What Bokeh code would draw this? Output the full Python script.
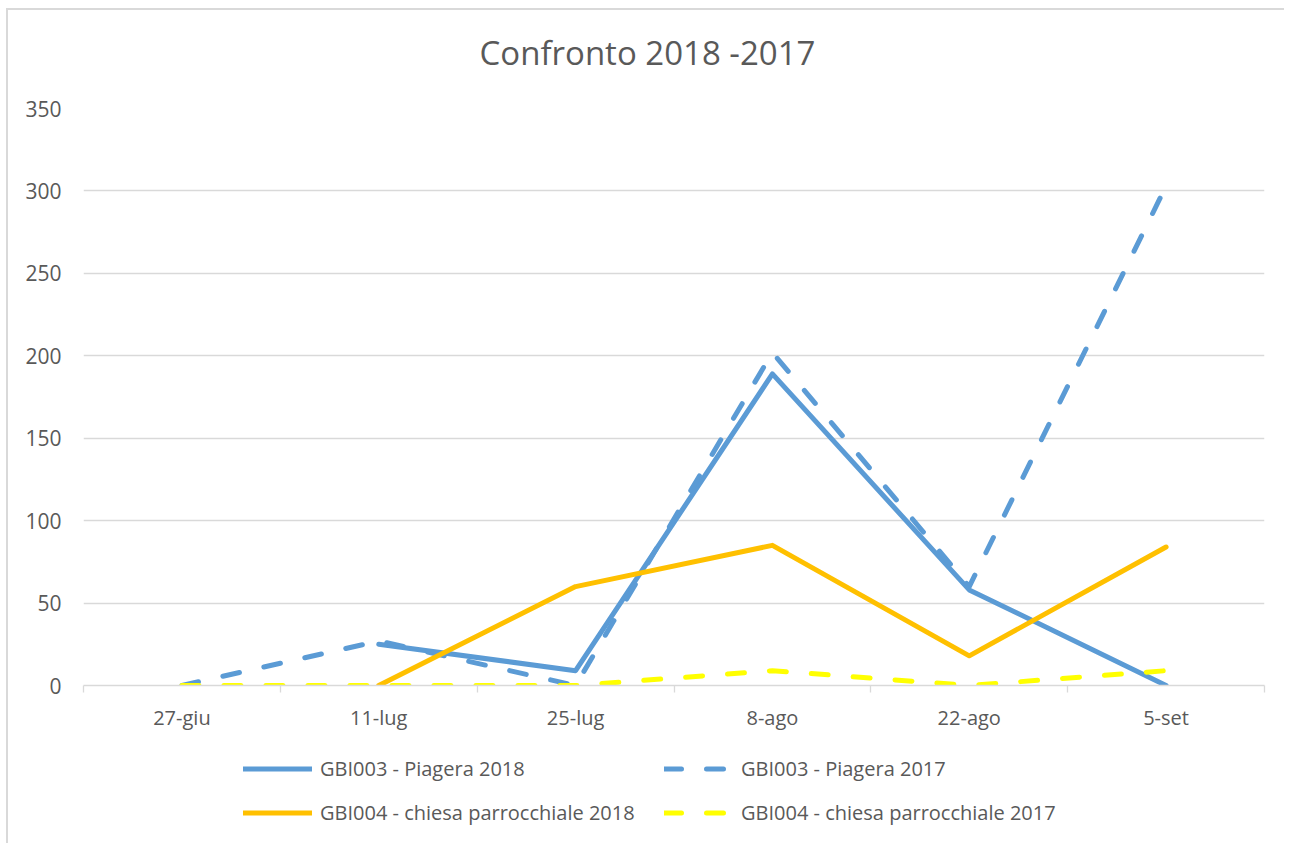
from bokeh.plotting import figure
from bokeh.layouts import column
from bokeh.models import Range1d, FixedTicker, Legend, LegendItem, Label
from bokeh.embed import file_html
from bokeh.resources import INLINE

# ---- data -------------------------------------------------------------
categories = ["27-giu", "11-lug", "25-lug", "8-ago", "22-ago", "5-set"]
piagera_2018 = [None, 25, 9, 189, 58, 0]
piagera_2017 = [0, 27, 0, 202, 60, 303]
chiesa_2018 = [None, 0, 60, 85, 18, 84]
chiesa_2017 = [0, 0, 0, 9, 0, 9]
series_names = [
    "GBI003 - Piagera 2018",
    "GBI003 - Piagera 2017",
    "GBI004 - chiesa parrocchiale 2018",
    "GBI004 - chiesa parrocchiale 2017",
]
y_ticks = [0, 50, 100, 150, 200, 250, 300, 350]
title_text = "Confronto 2018 -2017"

# ---- style ------------------------------------------------------------
FONT = "Open Sans"
TXT = "#595959"
GRID = "#d9d9d9"
BLUE = "#5B9BD5"
ORANGE = "#FFC000"
YELLOW = "#FFFF00"
series_styles = [
    dict(line_color=BLUE),
    dict(line_color=BLUE, line_dash="17 25"),
    dict(line_color=ORANGE),
    dict(line_color=YELLOW, line_dash="17 25"),
]
common = dict(line_width=5, line_join="round", line_cap="round")

x = [i + 0.5 for i in range(len(categories))]


def clean(vals):
    return [float("nan") if v is None else v for v in vals]


def blank_fig(frame_height, xr=(0, 1), yr=(0, 1)):
    f = figure(
        frame_width=1181, frame_height=frame_height,
        min_border_left=75, min_border_right=20, min_border_top=0, min_border_bottom=0,
        x_range=Range1d(*xr), y_range=Range1d(*yr),
        x_axis_type=None, y_axis_type=None,
        output_backend="svg", toolbar_location=None,
        background_fill_color="white", border_fill_color="white",
        outline_line_color=None,
    )
    f.xgrid.visible = False
    f.ygrid.visible = False
    return f


# ---- header with title ------------------------------------------------
header = blank_fig(78)
header.add_layout(Label(
    x=564, y=36, x_units="screen", y_units="screen", text=title_text,
    text_align="center", text_baseline="middle",
    text_font=FONT, text_font_size="33px", text_color=TXT,
))

# ---- main chart -------------------------------------------------------
p = figure(
    frame_width=1181, frame_height=577,
    min_border_left=75, min_border_right=20,
    min_border_top=20, min_border_bottom=60,
    x_range=Range1d(0, len(categories)), y_range=Range1d(0, 350),
    output_backend="svg", toolbar_location=None,
    background_fill_color="white", border_fill_color="white",
    outline_line_color=None,
)

p.xgrid.grid_line_color = None
p.ygrid.grid_line_color = GRID
p.ygrid.grid_line_width = 1.3
p.ygrid.ticker = FixedTicker(ticks=y_ticks)

p.yaxis.ticker = FixedTicker(ticks=y_ticks)
p.yaxis.axis_line_color = None
p.yaxis.major_tick_line_color = None
p.yaxis.minor_tick_line_color = None
p.yaxis.major_label_standoff = 16
p.yaxis.major_label_text_font = FONT
p.yaxis.major_label_text_font_size = "21px"
p.yaxis.major_label_text_color = TXT

p.xaxis.ticker = FixedTicker(ticks=x, minor_ticks=list(range(len(categories) + 1)))
p.xaxis.major_label_overrides = {xi: c for xi, c in zip(x, categories)}
p.xaxis.axis_line_color = GRID
p.xaxis.axis_line_width = 1.3
p.xaxis.major_tick_line_color = None
p.xaxis.major_tick_out = 0
p.xaxis.major_tick_in = 0
p.xaxis.minor_tick_line_color = GRID
p.xaxis.minor_tick_line_width = 1.3
p.xaxis.minor_tick_out = 7
p.xaxis.minor_tick_in = 0
p.xaxis.major_label_standoff = 11
p.xaxis.major_label_text_font = FONT
p.xaxis.major_label_text_font_size = "20px"
p.xaxis.major_label_text_color = TXT

series_values = [piagera_2018, piagera_2017, chiesa_2018, chiesa_2017]
for vals, st in zip(series_values, series_styles):
    p.line(x, clean(vals), **st, **common)

# ---- legend strip (proxy renderers lie outside this strip's ranges) ----
lfig = blank_fig(98, xr=(-100, -99), yr=(-100, -99))
proxies = [lfig.line(x, clean(vals), **st, **common)
           for vals, st in zip(series_values, series_styles)]
legend = Legend(
    items=[LegendItem(label=n, renderers=[r]) for n, r in zip(series_names, proxies)],
    location=(160, 16), orientation="horizontal", ncols=2,
    glyph_width=69, glyph_height=29, label_height=29, label_width=329,
    label_standoff=8, spacing=15, padding=0, margin=0,
    border_line_color=None, background_fill_alpha=0,
    label_text_font=FONT, label_text_font_size="20px", label_text_color=TXT,
)
lfig.add_layout(legend, "center")

layout = column(
    header, p, lfig, spacing=0,
    styles={
        "margin-left": "6px", "margin-top": "8px",
        "border-left": "2px solid #d9d9d9", "border-top": "2px solid #d9d9d9",
    },
)

open("out.html", "w").write(file_html(layout, INLINE))
